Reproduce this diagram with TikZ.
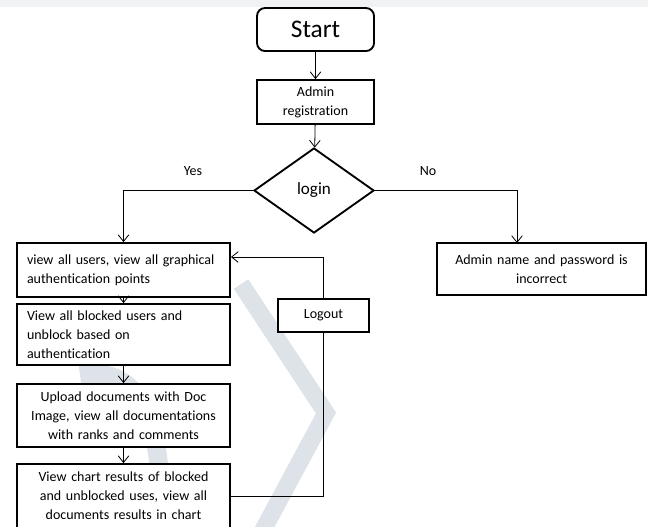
\documentclass[tikz,border=0pt]{standalone}
\usepackage{fontspec}
\setmainfont{Carlito}[Ligatures=NoCommon]
\usetikzlibrary{shapes.geometric,arrows.meta}

\definecolor{wmgray}{HTML}{DDE3E8}
\definecolor{topgray}{HTML}{F1F2F4}

\newcommand{\boxfont}{\fontsize{10.5}{14.25}\selectfont}

\tikzset{
  flowbox/.style={draw,line width=1.4pt,fill=white,inner ysep=0pt,font=\boxfont},
  leftbox/.style={flowbox,text width=144.75pt,inner xsep=7.5pt,align=left,minimum height=#1},
  midbox/.style={flowbox,text width=151.75pt,inner xsep=4pt,align=center,minimum height=#1},
  link/.style={line width=0.6pt,-{Straight Barb[length=5pt,width=8pt]}},
  plain/.style={line width=0.6pt}
}

\begin{document}
\begin{tikzpicture}[x=0.75pt,y=-0.75pt]
        \useasboundingbox (0,0) rectangle (648,526);
        \fill[topgray] (0,0) rectangle (648,7);

        \draw[wmgray,line width=13pt] (241,284) -- (326,413) -- (262,532);
        \draw[wmgray,line width=14pt] (80,375) .. controls (140,365) and (165,420) .. (160,532);

        \node[draw,line width=1.4pt,fill=white,rounded corners=6pt,minimum width=87.75pt,minimum height=32.25pt,
              font=\fontsize{19}{22}\selectfont] (start) at (315.5,29.5) {Start};
        \node[flowbox,align=center,minimum width=87.75pt,minimum height=33pt] (adm) at (315.5,102)
              {Admin\\registration};
        \node[draw,diamond,line width=1.4pt,fill=white,inner sep=0pt,minimum width=90pt,minimum height=63.75pt,
              font=\fontsize{12.8}{15}\selectfont] (login) at (314,190.5) {login};

        \node[font=\boxfont] (yes) at (193,171) {Yes};
        \node[font=\boxfont] (no) at (428,171) {No};

        \node[leftbox=40.5pt] (view) at (123.5,270)
              {view all users, view all graphical\\authentication points};
        \node[leftbox=45.75pt] (blocked) at (123.5,334.5)
              {View all blocked users and\\unblock based on\\authentication};
        \node[midbox=47.25pt] (upload) at (123.5,415.5)
              {Upload documents with Doc\\Image, view all documentations\\with ranks and comments};
        \node[midbox=48pt] (chart) at (123.5,496)
              {View chart results of blocked\\and unblocked uses, view all\\documents results in chart};

        \node[midbox=39pt,text width=148.75pt] (nope) at (541.5,269)
              {Admin name and password is\\incorrect};
        \node[flowbox,minimum width=68.25pt,minimum height=24.75pt] (logout) at (323.5,315.5) {Logout};

        \coordinate (nopein) at (517,243);

        \draw[link] (start) -- (adm);
        \draw[link] (adm) -- (login);
        \draw[link] (login.west) -| (view.north);
        \draw[link] (login.east) -| (nopein);
        \draw[link] (view) -- (blocked);
        \draw[link] (blocked) -- (upload);
        \draw[link] (upload) -- (chart);
        \draw[plain] (chart.east) -| (logout.south);
        \draw[link] (logout.north) |- ([yshift=9.75pt]view.east);
\end{tikzpicture}
\end{document}
